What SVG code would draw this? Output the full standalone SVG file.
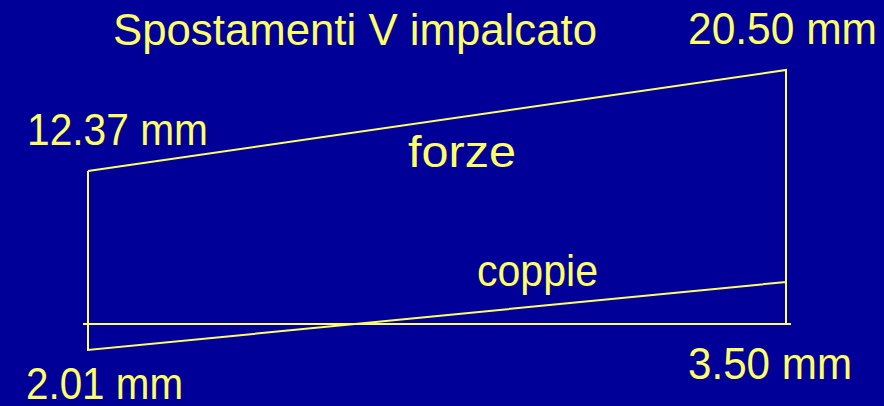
<svg xmlns="http://www.w3.org/2000/svg" width="884" height="406" viewBox="0 0 884 406">
<style>
.t{font-family:"Liberation Sans","DejaVu Sans",sans-serif;fill:#FFFF66;font-size:44px}
.l{stroke:#FFFF66;stroke-width:2;fill:none}
</style>
<rect x="0" y="0" width="884" height="406" fill="#000099"/>
<g id="lines">
<path class="l" d="M88,171 L786,70 L786,324 M88,171 L88,350 L786,282"/>
<line class="l" x1="83" y1="324" x2="791" y2="324"/>
</g>
<g id="labels">
<text id="title" class="t" x="113" y="45" textLength="484" lengthAdjust="spacingAndGlyphs">Spostamenti V impalcato</text>
<text id="v2050" class="t" x="688" y="44" textLength="189" lengthAdjust="spacingAndGlyphs">20.50 mm</text>
<text id="v1237" class="t" x="27" y="145" textLength="181" lengthAdjust="spacingAndGlyphs">12.37 mm</text>
<text id="forze" class="t" x="408" y="167" textLength="108" lengthAdjust="spacingAndGlyphs">forze</text>
<text id="coppie" class="t" x="477" y="286" textLength="121" lengthAdjust="spacingAndGlyphs">coppie</text>
<text id="v350" class="t" x="688" y="379" textLength="164" lengthAdjust="spacingAndGlyphs">3.50 mm</text>
<text id="v201" class="t" x="26" y="399" textLength="157" lengthAdjust="spacingAndGlyphs">2.01 mm</text>
</g>
</svg>
